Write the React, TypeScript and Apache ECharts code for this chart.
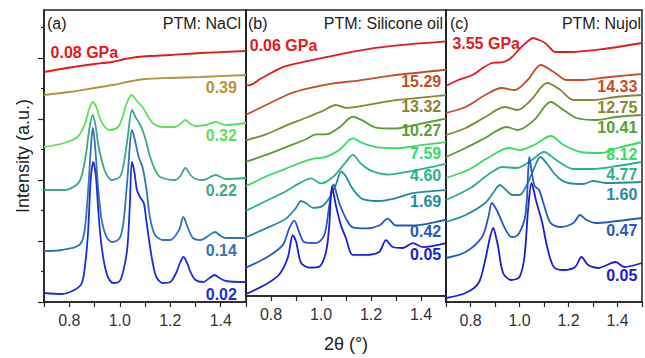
import React, { useEffect, useRef } from 'react';
import * as echarts from 'echarts';

type Pt = [number, number];

// ---------- Panel (a) PTM: NaCl ----------
const nacl_008: Pt[] = [[0.7,230],[0.79,234],[0.9,238],[0.97,240],[1.02,243],[1.07,245],[1.12,246],[1.2,247],[1.32,249],[1.5,251]];
const nacl_039: Pt[] = [[0.7,207],[0.8,210],[0.9,214],[0.97,217],[1.05,221],[1.1,223],[1.2,224],[1.32,225],[1.5,227]];
const nacl_032: Pt[] = [[0.7,155],[0.78,159],[0.833,165],[0.855,174],[0.867,182],[0.88,194],[0.893,200],[0.907,195],[0.92,185],[0.935,177],[0.96,172],[0.993,175],[1.01,184],[1.025,197],[1.047,207],[1.062,203],[1.075,199],[1.09,195],[1.1,191],[1.115,184],[1.135,178],[1.167,175],[1.22,175],[1.24,178],[1.26,182],[1.28,178],[1.3,176],[1.34,177],[1.38,180],[1.42,177],[1.5,179]];
const nacl_022: Pt[] = [[0.7,112],[0.78,112],[0.833,118],[0.85,127],[0.867,149],[0.88,174],[0.893,187],[0.905,175],[0.915,157],[0.93,140],[0.945,129],[0.967,122],[1.0,125],[1.015,137],[1.03,162],[1.049,192],[1.062,185],[1.075,180],[1.09,172],[1.105,160],[1.12,145],[1.14,132],[1.16,125],[1.22,122],[1.24,126],[1.26,134],[1.28,127],[1.3,123],[1.33,122],[1.38,127],[1.42,123],[1.5,124]];
const nacl_014: Pt[] = [[0.7,51],[0.77,52],[0.84,57],[0.86,70],[0.875,112],[0.885,152],[0.893,174],[0.902,157],[0.915,112],[0.93,80],[0.95,64],[0.972,60],[1.0,64],[1.015,80],[1.03,122],[1.049,172],[1.06,162],[1.075,145],[1.09,135],[1.105,114],[1.12,84],[1.14,67],[1.17,62],[1.2,62],[1.235,72],[1.252,85],[1.27,74],[1.29,64],[1.32,62],[1.35,66],[1.377,70],[1.4,66],[1.42,64],[1.5,64]];
const nacl_002: Pt[] = [[0.7,9],[0.77,8],[0.82,12],[0.85,19],[0.865,42],[0.875,72],[0.885,122],[0.895,140],[0.905,127],[0.915,92],[0.925,62],[0.94,37],[0.955,24],[0.975,19],[1.0,21],[1.015,32],[1.03,54],[1.04,97],[1.048,140],[1.058,130],[1.068,112],[1.08,105],[1.095,99],[1.105,82],[1.116,62],[1.13,40],[1.145,25],[1.17,19],[1.2,20],[1.225,30],[1.24,40],[1.252,45],[1.265,40],[1.28,30],[1.3,22],[1.33,20],[1.355,24],[1.376,27],[1.395,24],[1.42,21],[1.5,20]];

// ---------- Panel (b) PTM: Silicone oil ----------
const sil_006: Pt[] = [[0.7,216],[0.71,215],[0.76,222],[0.85,234],[0.95,240],[1.08,247],[1.21,253],[1.35,257],[1.5,260]];
const sil_1529: Pt[] = [[0.7,185],[0.78,195],[0.88,207],[0.95,212],[1.05,217],[1.15,220],[1.28,225],[1.5,231]];
const sil_1332: Pt[] = [[0.7,159],[0.78,165],[0.86,174],[0.94,182],[1.007,189],[1.06,195],[1.1,192],[1.14,193],[1.207,196],[1.273,199],[1.34,201],[1.5,205]];
const sil_1027: Pt[] = [[0.7,137],[0.78,144],[0.86,152],[0.94,160],[0.98,165],[1.02,165],[1.073,172],[1.127,183],[1.167,179],[1.22,172],[1.3,171],[1.4,176],[1.5,181]];
const sil_759: Pt[] = [[0.7,112],[0.78,122],[0.86,130],[0.927,137],[0.967,140],[1.02,142],[1.073,149],[1.127,161],[1.167,156],[1.22,152],[1.3,151],[1.4,154],[1.5,157]];
const sil_460: Pt[] = [[0.7,87],[0.78,97],[0.86,107],[0.92,116],[0.96,120],[1.0,115],[1.05,122],[1.1,137],[1.127,144],[1.16,135],[1.2,128],[1.27,124],[1.35,127],[1.5,135]];
const sil_169: Pt[] = [[0.7,60],[0.78,69],[0.86,79],[0.9,90],[0.92,97],[0.945,94],[0.967,90],[1.007,92],[1.033,100],[1.06,114],[1.08,127],[1.1,122],[1.12,112],[1.14,105],[1.167,99],[1.233,97],[1.3,100],[1.367,105],[1.5,108]];
const sil_042: Pt[] = [[0.7,29],[0.78,39],[0.847,52],[0.873,69],[0.893,77],[0.913,65],[0.933,55],[0.98,54],[1.013,62],[1.033,92],[1.05,114],[1.06,107],[1.073,95],[1.1,79],[1.127,70],[1.18,69],[1.233,72],[1.267,79],[1.3,72],[1.367,72],[1.5,78]];
const sil_005: Pt[] = [[0.7,2],[0.78,12],[0.833,22],[0.867,39],[0.887,62],[0.9,56],[0.92,34],[0.953,29],[0.993,30],[1.02,45],[1.033,72],[1.044,112],[1.06,92],[1.08,72],[1.1,59],[1.127,42],[1.18,42],[1.233,45],[1.26,57],[1.287,50],[1.327,49],[1.367,54],[1.407,50],[1.5,54]];

// ---------- Panel (c) PTM: Nujol ----------
const nuj_355: Pt[] = [[0.7,216],[0.75,222],[0.808,227],[0.85,234],[0.888,239],[0.936,240],[0.97,245],[0.996,252],[1.03,260],[1.056,264],[1.08,262],[1.104,259],[1.125,254],[1.144,250],[1.208,250],[1.344,253],[1.5,259]];
const nuj_1433: Pt[] = [[0.7,189],[0.78,195],[0.86,207],[0.927,214],[0.98,212],[1.033,222],[1.087,237],[1.14,230],[1.193,222],[1.26,222],[1.367,225],[1.5,228]];
const nuj_1275: Pt[] = [[0.7,167],[0.78,174],[0.86,185],[0.94,195],[0.993,192],[1.047,202],[1.113,219],[1.167,212],[1.22,202],[1.3,202],[1.393,205],[1.5,207]];
const nuj_1041: Pt[] = [[0.7,145],[0.78,154],[0.86,164],[0.947,175],[0.993,172],[1.06,182],[1.127,200],[1.18,192],[1.233,184],[1.313,182],[1.393,185],[1.5,187]];
const nuj_812: Pt[] = [[0.7,124],[0.79,132],[0.87,144],[0.956,154],[1.0,152],[1.06,157],[1.128,166],[1.18,157],[1.25,150],[1.33,149],[1.4,154],[1.5,160]];
const nuj_477: Pt[] = [[0.7,102],[0.8,114],[0.87,127],[0.93,135],[0.99,134],[1.05,142],[1.1,150],[1.15,142],[1.22,133],[1.3,133],[1.4,136],[1.5,140]];
const nuj_160: Pt[] = [[0.7,80],[0.78,87],[0.86,99],[0.895,110],[0.92,117],[0.945,112],[0.97,107],[1.0,107],[1.03,117],[1.06,134],[1.085,145],[1.11,139],[1.14,129],[1.17,122],[1.2,119],[1.26,118],[1.3,121],[1.35,119],[1.5,120]];
const nuj_047: Pt[] = [[0.7,44],[0.78,50],[0.847,65],[0.873,85],[0.887,99],[0.9,95],[0.913,89],[0.94,74],[0.967,65],[0.993,67],[1.02,82],[1.03,102],[1.04,145],[1.05,130],[1.062,116],[1.08,112],[1.1,97],[1.127,79],[1.167,75],[1.22,79],[1.247,87],[1.273,82],[1.313,79],[1.367,80],[1.5,84]];
const nuj_005: Pt[] = [[0.7,4],[0.78,9],[0.833,19],[0.86,42],[0.88,65],[0.893,74],[0.905,64],[0.913,55],[0.933,29],[0.967,22],[1.0,25],[1.02,45],[1.035,92],[1.049,119],[1.058,112],[1.067,102],[1.093,79],[1.113,55],[1.14,35],[1.18,32],[1.227,35],[1.253,45],[1.28,37],[1.32,34],[1.393,40],[1.427,35],[1.5,39]];

const panelTitles = ['PTM: NaCl', 'PTM: Silicone oil', 'PTM: Nujol'];
const panelTags = ['(a)', '(b)', '(c)'];

const naclLabels = ['0.08 GPa', '0.39', '0.32', '0.22', '0.14', '0.02'];
const silLabels = ['0.06 GPa', '15.29', '13.32', '10.27', '7.59', '4.60', '1.69', '0.42', '0.05'];
const nujLabels = ['3.55 GPa', '14.33', '12.75', '10.41', '8.12', '4.77', '1.60', '0.47', '0.05'];

const naclColors = ['#e3191c', '#b0953c', '#5ee05c', '#3fa886', '#3874b4', '#1a30d6'];
const highColors = ['#e3191c', '#c24f28', '#878636', '#5a9c3a', '#36dc66', '#2ab28a', '#268ca0', '#2659c0', '#1a1ed6'];

const naclCurves = [nacl_008, nacl_039, nacl_032, nacl_022, nacl_014, nacl_002];
const silCurves = [sil_006, sil_1529, sil_1332, sil_1027, sil_759, sil_460, sil_169, sil_042, sil_005];
const nujCurves = [nuj_355, nuj_1433, nuj_1275, nuj_1041, nuj_812, nuj_477, nuj_160, nuj_047, nuj_005];

const xMin = 0.7;
const xMax = 1.5;
const yMax = 292;
const majorYTicks = [0, 61, 122, 183, 244];
const minorYTicks = [30.5, 91.5, 152.5, 213.5, 274.5];

const FONT = '"Liberation Sans", Arial, Helvetica, sans-serif';
const FRAME = '#222';

export default function App() {
  const ref = useRef<HTMLDivElement>(null);

  useEffect(() => {
    if (!ref.current) return;
    const chart = echarts.init(ref.current, undefined, { renderer: 'svg' });

    const grids = [
      { left: 44, top: 10, width: 202, height: 292 },
      { left: 246, top: 10, width: 200, height: 292 },
      { left: 446, top: 10, width: 200, height: 292 },
    ].map((g) => ({ ...g, show: true, borderColor: FRAME, borderWidth: 1.5, backgroundColor: 'transparent' }));

    const xAxes = [0, 1, 2].map((i) => ({
      type: 'value',
      gridIndex: i,
      min: xMin,
      max: xMax,
      interval: 0.1,
      name: i === 1 ? '2θ (°)' : '',
      nameLocation: 'middle',
      nameGap: 39,
      nameTextStyle: { fontSize: 18, color: '#222', fontFamily: FONT },
      axisLine: { show: true, lineStyle: { color: FRAME, width: 1.5 } },
      axisTick: { show: true, inside: false, length: 5, lineStyle: { color: FRAME, width: 1.2 } },
      axisLabel: {
        show: true,
        margin: 10,
        fontSize: 16,
        color: '#333',
        fontFamily: FONT,
        formatter: (v: number) => {
          const k = Math.round(v * 10);
          return k % 2 === 0 ? (k / 10).toFixed(1) : '';
        },
      },
      splitLine: { show: false },
    }));

    const baseY = (gridIndex: number) => ({
      type: 'value',
      gridIndex,
      min: 0,
      max: yMax,
      position: 'left',
      axisLine: { show: true, lineStyle: { color: FRAME, width: 1.5 } },
      axisTick: { show: false },
      axisLabel: { show: false },
      splitLine: { show: false },
    });

    const yAxes = [
      {
        ...baseY(0),
        name: 'Intensity (a.u.)',
        nameLocation: 'middle',
        nameGap: 12,
        nameTextStyle: { fontSize: 18, color: '#222', fontFamily: FONT },
        axisTick: { show: true, inside: false, length: 6, customValues: majorYTicks, lineStyle: { color: FRAME, width: 1.2 } },
      },
      {
        ...baseY(0),
        axisLine: { show: false },
        axisTick: { show: true, inside: false, length: 3, customValues: minorYTicks, lineStyle: { color: FRAME, width: 1.2 } },
      },
      baseY(1),
      baseY(2),
    ];

    const panels = [
      { curves: naclCurves, labels: naclLabels, colors: naclColors, xi: 0, yi: 0, labelX: 1.466 },
      { curves: silCurves, labels: silLabels, colors: highColors, xi: 1, yi: 2, labelX: 1.483 },
      { curves: nujCurves, labels: nujLabels, colors: highColors, xi: 2, yi: 3, labelX: 1.483 },
    ];
    const topLabelPos: Pt[] = [[0.724, 250], [0.713, 256], [0.724, 259]];

    const series: any[] = [];
    panels.forEach((p, pi) => {
      p.curves.forEach((c, ci) => {
        series.push({
          type: 'line',
          name: `${panelTags[pi]} ${p.labels[ci]}`,
          xAxisIndex: p.xi,
          yAxisIndex: p.yi,
          data: c,
          smooth: 0.3,
          showSymbol: false,
          silent: true,
          lineStyle: { color: p.colors[ci], width: 1.8 },
          z: 2,
        });
      });
      const labelData = p.curves.map((c, ci) => {
        if (ci === 0) {
          return {
            value: topLabelPos[pi],
            name: p.labels[ci],
            label: { color: p.colors[ci], position: 'right' },
          };
        }
        return {
          value: [p.labelX, c[c.length - 1][1] - 12],
          name: p.labels[ci],
          label: { color: p.colors[ci], position: 'left' },
        };
      });
      series.push({
        type: 'scatter',
        xAxisIndex: p.xi,
        yAxisIndex: p.yi,
        symbol: 'circle',
        symbolSize: 1,
        itemStyle: { color: 'rgba(0,0,0,0)', opacity: 1 },
        silent: true,
        z: 5,
        label: {
          show: true,
          distance: 0,
          opacity: 1,
          fontSize: 16,
          fontWeight: 'bold',
          fontFamily: FONT,
          formatter: (prm: any) => prm.name,
        },
        data: labelData,
      });
    });

    const tagX = [47, 248, 450];
    const titleRight = [241, 443, 641];
    const graphic: any[] = [];
    for (let i = 0; i < 3; i++) {
      graphic.push({
        type: 'text',
        x: tagX[i],
        y: 23,
        z: 10,
        style: { text: panelTags[i], font: `16px ${FONT}`, fill: '#222', align: 'left', verticalAlign: 'middle' },
      });
      graphic.push({
        type: 'text',
        x: titleRight[i],
        y: 23,
        z: 10,
        style: { text: panelTitles[i], font: `16px ${FONT}`, fill: '#222', align: 'right', verticalAlign: 'middle' },
      });
    }

    chart.setOption({
      animation: false,
      backgroundColor: '#fff',
      grid: grids,
      xAxis: xAxes,
      yAxis: yAxes,
      series,
      graphic,
    });

    return () => chart.dispose();
  }, []);

  return (
    <div
      ref={ref}
      style={{ position: 'fixed', left: 0, top: 0, width: 645, height: 358, background: '#fff' }}
    />
  );
}
